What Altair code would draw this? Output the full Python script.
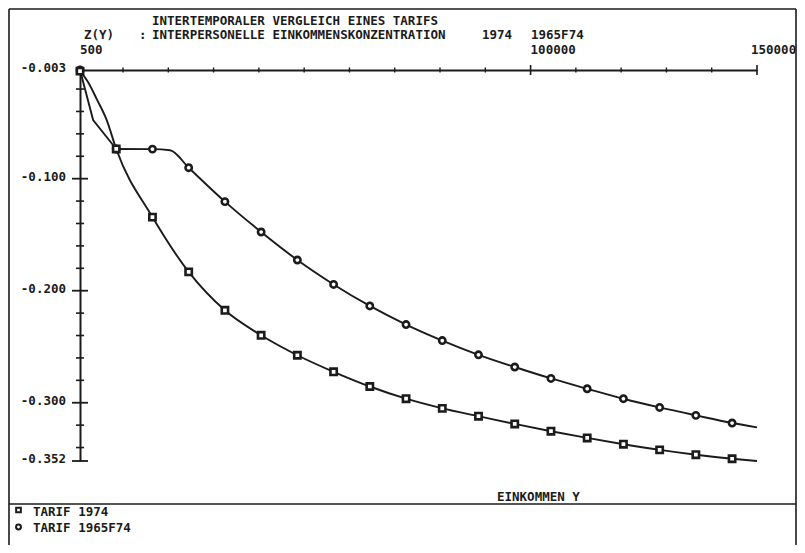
import altair as alt
import pandas as pd

# ---------------- data ----------------
income = [500, 8500, 16500, 24500, 32500, 40500, 48500, 56500, 64500, 72500,
          80500, 88500, 96500, 104500, 112500, 120500, 128500, 136500, 144500]
tarif_1974 = [-0.0040, -0.0735, -0.1343, -0.1832, -0.2175, -0.2398, -0.2576,
              -0.2724, -0.2855, -0.2964, -0.3050, -0.3120, -0.3189, -0.3254,
              -0.3314, -0.3370, -0.3421, -0.3464, -0.3500]
tarif_1965f74 = [-0.0030, -0.0735, -0.0736, -0.0902, -0.1205, -0.1476, -0.1726,
                 -0.1944, -0.2136, -0.2302, -0.2445, -0.2572, -0.2681, -0.2783,
                 -0.2875, -0.2964, -0.3042, -0.3113, -0.3181]
# additional curve points between the plotted symbols
extra_1974_income = [2300, 4200, 6400, 150000]
extra_1974_value = [-0.0139, -0.0290, -0.0477, -0.3520]
extra_1965_income = [3400, 20400, 150000]
extra_1965_value = [-0.0477, -0.0746, -0.3220]

x_ticks_minor = [10000, 20000, 30000, 40000, 50000, 60000, 70000, 80000, 90000,
                 110000, 120000, 130000, 140000]
x_ticks_major = [100000, 150000]
x_label_values = [500, 100000]
x_label_texts = ["500", "100000"]
x_last_label_value = [150000]
x_last_label_text = ["150000"]
y_ticks_minor = [-0.02, -0.04, -0.06, -0.08, -0.12, -0.14, -0.16, -0.18,
                 -0.22, -0.24, -0.26, -0.28, -0.32, -0.34]
y_ticks_major = [-0.100, -0.200, -0.300, -0.352]
y_label_values = [-0.003, -0.100, -0.200, -0.300, -0.352]
y_label_texts = ["-0.003", "-0.100", "-0.200", "-0.300", "-0.352"]

title_1 = "INTERTEMPORALER VERGLEICH EINES TARIFS"
title_2_parts = ["Z(Y)", ":", "INTERPERSONELLE EINKOMMENSKONZENTRATION", "1974", "1965F74"]
x_title = "EINKOMMEN Y"
legend_labels = ["TARIF 1974", "TARIF 1965F74"]

# ---------------- layout / style ----------------
FONT = "DejaVu Sans Mono"
INK = "#1b1b1b"
W, H = 677, 391
OX, OY = 80, 70  # page position of the plot origin

xs = alt.Scale(domain=[500, 150000], nice=False, zero=False)
ys = alt.Scale(domain=[-0.352, -0.003], nice=False, zero=False)
xax = alt.Axis(orient="top", labels=False, ticks=False, grid=False,
               domainColor=INK, domainWidth=2, title=None)
yax = alt.Axis(orient="left", labels=False, ticks=False, grid=False,
               domainColor=INK, domainWidth=2, title=None)


def X(f):
    return alt.X(f, type="quantitative", scale=xs, axis=xax)


def Y(f):
    return alt.Y(f, type="quantitative", scale=ys, axis=yax)


def merged(xa, ya, xb, yb):
    pairs = sorted(zip(list(xa) + list(xb), list(ya) + list(yb)))
    return pd.DataFrame({"income": [p[0] for p in pairs], "value": [p[1] for p in pairs]})


line74 = merged(income, tarif_1974, extra_1974_income, extra_1974_value)
line65 = merged(income, tarif_1965f74, extra_1965_income, extra_1965_value)
line65_head = line65[line65["income"] <= 8500]
line65_body = line65[line65["income"] >= 8500]
pts = pd.DataFrame({"income": income, "t74": tarif_1974, "t65": tarif_1965f74})
one = pd.DataFrame({"a": [1]})

layers = []
layers.append(alt.Chart(line74).mark_line(interpolate="monotone", color=INK, strokeWidth=1.9)
              .encode(x=X("income"), y=Y("value")))
layers.append(alt.Chart(line65_head).mark_line(interpolate="linear", color=INK, strokeWidth=1.9)
              .encode(x=X("income"), y=Y("value")))
layers.append(alt.Chart(line65_body).mark_line(interpolate="monotone", color=INK, strokeWidth=1.9)
              .encode(x=X("income"), y=Y("value")))
layers.append(alt.Chart(pts).mark_point(shape="circle", size=40, filled=True, fill="white",
                                         stroke=INK, strokeWidth=2.6, opacity=1)
              .encode(x=X("income"), y=Y("t65")))
layers.append(alt.Chart(pts).mark_point(shape="square", size=40, filled=True, fill="white",
                                         stroke=INK, strokeWidth=2.6, opacity=1)
              .encode(x=X("income"), y=Y("t74")))

# tick crosses
layers.append(alt.Chart(pd.DataFrame({"v": y_ticks_minor})).mark_rule(color=INK, strokeWidth=1.6)
              .encode(y=Y("v"), x=alt.value(-4), x2=alt.value(4)))
layers.append(alt.Chart(pd.DataFrame({"v": y_ticks_major})).mark_rule(color=INK, strokeWidth=1.8)
              .encode(y=Y("v"), x=alt.value(-8), x2=alt.value(8)))
layers.append(alt.Chart(pd.DataFrame({"v": x_ticks_minor})).mark_rule(color=INK, strokeWidth=1.4)
              .encode(x=X("v"), y=alt.value(-2.5), y2=alt.value(2.5)))
layers.append(alt.Chart(pd.DataFrame({"v": x_ticks_major})).mark_rule(color=INK, strokeWidth=1.6)
              .encode(x=X("v"), y=alt.value(-5), y2=alt.value(5)))

# tick labels
FS = 12.5
txt = dict(font=FONT, fontSize=FS, fontWeight="bold", color=INK)
layers.append(alt.Chart(pd.DataFrame({"v": x_label_values, "t": x_label_texts}))
              .mark_text(align="left", baseline="middle", **txt)
              .encode(x=X("v"), y=alt.value(50 - OY), text="t:N"))
layers.append(alt.Chart(pd.DataFrame({"v": x_last_label_value, "t": x_last_label_text}))
              .mark_text(align="left", baseline="middle", dx=-6, **txt)
              .encode(x=X("v"), y=alt.value(50 - OY), text="t:N"))
layers.append(alt.Chart(pd.DataFrame({"v": y_label_values, "t": y_label_texts}))
              .mark_text(align="right", baseline="middle", dy=-2, **txt)
              .encode(y=Y("v"), x=alt.value(-14), text="t:N"))


def page_text(text, px, py):
    return (alt.Chart(one).mark_text(text=text, align="left", baseline="middle", **txt)
            .encode(x=alt.value(px - OX), y=alt.value(py - OY)))


layers.append(page_text(title_1, 152, 20.5))
for part, px in zip(title_2_parts, [84, 139, 152, 482, 531]):
    layers.append(page_text(part, px, 35))
layers.append(page_text(x_title, 497, 497))
layers.append(page_text(legend_labels[0], 33, 512))
layers.append(page_text(legend_labels[1], 33, 528))
layers.append(alt.Chart(one).mark_point(shape="square", size=22, filled=True, fill="white",
                                         stroke=INK, strokeWidth=2, opacity=1)
              .encode(x=alt.value(18.5 - OX), y=alt.value(510 - OY)))
layers.append(alt.Chart(one).mark_point(shape="circle", size=24, filled=True, fill="white",
                                         stroke=INK, strokeWidth=2, opacity=1)
              .encode(x=alt.value(18.5 - OX), y=alt.value(527 - OY)))


def frame(x1, y1, x2, y2):
    return (alt.Chart(one).mark_rule(color=INK, strokeWidth=1.6)
            .encode(x=alt.value(x1 - OX), y=alt.value(y1 - OY),
                    x2=alt.value(x2 - OX), y2=alt.value(y2 - OY)))


layers.append(frame(9, 9, 796, 9))
layers.append(frame(9, 9, 9, 545))
layers.append(frame(796, 9, 796, 545))
layers.append(frame(9, 504, 796, 504))

chart = (alt.layer(*layers)
         .properties(width=W, height=H,
                     autosize=alt.AutoSizeParams(type="none"),
                     padding={"left": 72, "top": 62, "right": 40, "bottom": 84},
                     background="white")
         .configure_view(stroke=None))

chart.save("out.html", embed_options={"renderer": "svg", "actions": False})
